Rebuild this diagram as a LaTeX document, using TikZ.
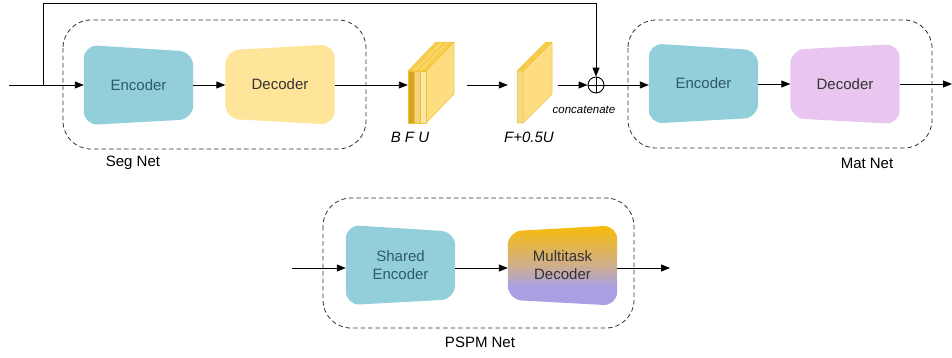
\documentclass[tikz,border=0pt]{standalone}
\usepackage{fontspec}
\setmainfont{Liberation Sans}
\usetikzlibrary{arrows.meta,calc,backgrounds}

\definecolor{encfill}{HTML}{93CEDB}
\definecolor{enctext}{HTML}{2D5C67}
\definecolor{decfill}{HTML}{FFE599}
\definecolor{matfill}{HTML}{E8C6EF}
\definecolor{gradtop}{HTML}{F8BC08}
\definecolor{gradmid}{HTML}{D0AE8C}
\definecolor{gradbot}{HTML}{A9A0E3}
\definecolor{slabedge}{HTML}{F0C030}
\definecolor{slabdark}{HTML}{D6A423}
\definecolor{slabmid}{HTML}{F3D27C}
\definecolor{slablight}{HTML}{FBE6A8}
\definecolor{slabside}{HTML}{FDDC82}
\definecolor{slabtop}{HTML}{F8CC4C}
\definecolor{boxline}{HTML}{333333}

% gold at the top, tan in the middle, lavender over the lower part
\pgfdeclareverticalshading{multitask}{100bp}{%
  color(0bp)=(gradbot); color(25bp)=(gradbot); color(37bp)=(gradbot);
  color(50bp)=(gradmid); color(75bp)=(gradtop); color(100bp)=(gradtop)}

\tikzset{
  blockbox/.style={minimum width=109pt, minimum height=80pt, inner sep=0pt,
                   align=center, font=\fontsize{15}{18}\selectfont},
  netbox/.style={draw=boxline, line width=0.8pt, dash pattern=on 4.5pt off 3pt,
                 rounded corners=28pt},
  arr/.style={line width=0.9pt, -{Triangle[length=9pt,width=7pt]}},
  netlabel/.style={font=\fontsize{15}{18}\selectfont},
  slablabel/.style={font=\fontsize{15}{18}\selectfont\itshape},
  slab/.style={draw=slabedge, line width=0.5pt, line join=round},
}

\begin{document}
\begin{tikzpicture}[x=1pt, y=-1pt]
\useasboundingbox (0,0) rectangle (952,357);

% ---------- dashed network frames ----------
\draw[netbox] (63,20) rectangle (366,149);
\draw[netbox] (628,20) rectangle (932,148);
\draw[netbox] (323,198) rectangle (634,328);

\node[netlabel] (seglab) at (133,163) {Seg Net};
\node[netlabel] (matlab) at (867,163) {Mat Net};
\node[netlabel] (psplab) at (480,342) {PSPM Net};

% ---------- encoder / decoder blocks ----------
\node[blockbox, text=enctext] (segenc) at (138.5,85) {Encoder};
\node[blockbox, text=black!80] (segdec) at (280,84.5) {Decoder};
\node[blockbox, text=enctext] (matenc) at (703.5,83.5) {Encoder};
\node[blockbox, text=black!80] (matdec) at (845,84) {Decoder};
\node[blockbox, text=enctext] (shenc) at (400.5,265) {Shared\\Encoder};
\node[blockbox, text=black!80] (mtdec) at (562.5,265.5) {Multitask\\Decoder};

\begin{scope}[on background layer]
  % encoders: tall left side, shorter right side
  \foreach \n in {segenc,matenc,shenc}{
    \fill[encfill, rounded corners=14pt]
      (\n.north west) -- ($(\n.north east)+(0,7)$) --
      ($(\n.south east)+(0,-6)$) -- (\n.south west) -- cycle;
  }
  % decoders: short left side, tall right side
  \foreach \n/\c in {segdec/decfill,matdec/matfill}{
    \fill[\c, rounded corners=14pt]
      ($(\n.north west)+(0,6)$) -- (\n.north east) --
      (\n.south east) -- ($(\n.south west)+(0,-6)$) -- cycle;
  }
  \shade[shading=multitask, rounded corners=14pt]
    ($(mtdec.north west)+(0,6)$) -- (mtdec.north east) --
    (mtdec.south east) -- ($(mtdec.south west)+(0,-6)$) -- cycle;
\end{scope}

% ---------- feature stack B F U ----------
\node[inner sep=0pt, minimum width=46pt, minimum height=81pt] (bfu) at (431,82.5) {};
\fill[slabside] (426,71) -- (454,42) -- (454,94) -- (426,123) -- cycle;
\draw[slab] (426,71) -- (454,42) -- (454,94) -- (426,123);
\fill[slabtop] (408,71) -- (426,71) -- (454,42) -- (436,42) -- cycle;
\draw[slab, draw=slablight] (414,71) -- (442,42) (420,71) -- (448,42);
\draw[slab] (408,71) -- (426,71) -- (454,42) -- (436,42) -- cycle;
\fill[slabdark]  (408,71) rectangle (414,123);
\fill[slabmid]   (414,71) rectangle (420,123);
\fill[slablight] (420,71) rectangle (426,123);
\draw[slab] (408,71) rectangle (426,123) (414,71) -- (414,123) (420,71) -- (420,123);
\node[slablabel] (bfulab) at (410,137) {B F U};

% ---------- fused feature F+0.5U ----------
\node[inner sep=0pt, minimum width=35pt, minimum height=81pt] (fsum) at (534.5,82.5) {};
\fill[slabside] (523,71) -- (552,42) -- (552,94) -- (523,123) -- cycle;
\fill[slabtop] (517,71) -- (523,71) -- (552,42) -- (546,42) -- cycle;
\fill[slabmid!70!slablight] (517,71) rectangle (523,123);
\draw[slab] (517,71) -- (546,42) -- (552,42) -- (552,94) -- (523,123) -- (517,123) -- cycle
            (517,71) -- (523,71) -- (552,42) (523,71) -- (523,123);
\node[slablabel] (fsumlab) at (529,137) {F+0.5U};

% ---------- concatenation ----------
\node[circle, draw, line width=0.9pt, minimum size=16pt, inner sep=0pt,
      path picture={\draw[line width=0.9pt]
        (path picture bounding box.north) -- (path picture bounding box.south)
        (path picture bounding box.west) -- (path picture bounding box.east);}]
      (oplus) at (596,85) {};
\node[font=\fontsize{11.5}{14}\selectfont\itshape] (catlab) at (584,110) {concatenate};

% ---------- connectors ----------
\coordinate (segin) at (9,85);
\coordinate (split) at (43,85);
\coordinate (matout) at (952,84);
\coordinate (pspin) at (292,268);
\coordinate (pspout) at (670,268);

\draw[arr] (segin) -- (segin -| segenc.west);
\draw[arr] (split) -- (43,3) -| (oplus.north);
\draw[arr] (segenc.east |- 0,85) -- (segdec.west |- 0,85);
\draw[arr] (segdec.east |- 0,85) -- (bfu.west |- 0,85);
\draw[arr, shorten <=13pt, shorten >=9pt] (bfu.east |- 0,85) -- (fsum.west |- 0,85);
\draw[arr, shorten <=6pt] (fsum.east |- 0,85) -- (oplus.west);
\draw[arr] (oplus.east) -- (oplus.east -| matenc.west);
\draw[arr] (matenc.east |- 0,84) -- (matdec.west |- 0,84);
\draw[arr] (matdec.east |- matout) -- (matout);

\draw[arr] (pspin) -- (pspin -| shenc.west);
\draw[arr] (shenc.east |- pspin) -- (mtdec.west |- pspin);
\draw[arr] (mtdec.east |- pspout) -- (pspout);
\end{tikzpicture}
\end{document}
